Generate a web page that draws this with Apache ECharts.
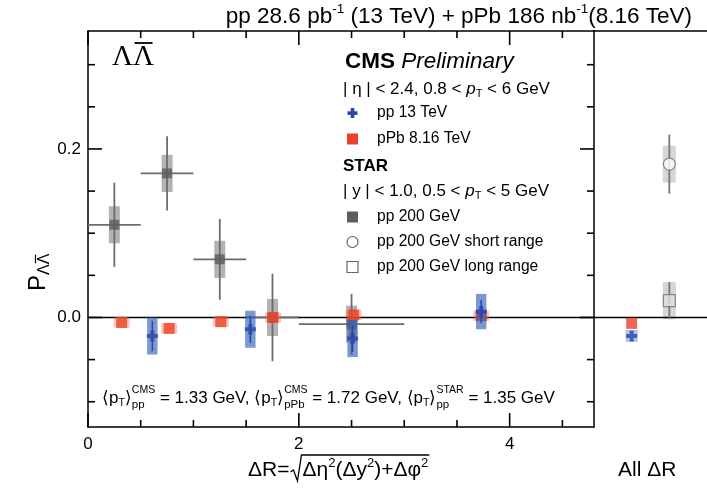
<!DOCTYPE html>
<html>
<head>
<meta charset="utf-8">
<script src="https://cdn.jsdelivr.net/npm/echarts@6/dist/echarts.min.js"></script>
<style>
html,body{margin:0;padding:0;background:#fff}
#chart{width:707px;height:493px}
</style>
</head>
<body>
<div id="chart"></div>
<script>
// ---- CMS pp 13 TeV ----
const cmsPpDR   = [0.61, 1.54, 2.51, 3.73];
const cmsPpP    = [-0.022, -0.014, -0.025, 0.007];
const cmsPpStat = [0.018, 0.016, 0.016, 0.014];
const cmsPpSys  = [0.022, 0.022, 0.022, 0.021];

// ---- CMS pPb 8.16 TeV ----
const cmsPPbDR  = [0.32, 0.77, 1.26, 1.755, 2.52, 3.73];
const cmsPPbP   = [-0.006, -0.013, -0.005, 0.000, 0.003, 0.002];
const cmsPPbSys = [0.006, 0.006, 0.006, 0.006, 0.006, 0.006];

// ---- STAR pp 200 GeV, binned in dR ----
const starDR   = [0.25, 0.75, 1.25, 1.75, 2.5];
const starLo   = [0.0, 0.5, 1.0, 1.5, 2.0];
const starHi   = [0.5, 1.0, 1.5, 2.0, 3.0];
const starP    = [0.110, 0.171, 0.069, 0.000, -0.008];
const starStat = [0.050, 0.044, 0.048, 0.052, 0.036];
const starSys  = [0.022, 0.022, 0.022, 0.022, 0.022];

// ---- integrated over all dR (right panel; slot 1 = CMS, slot 2 = STAR) ----
const allCmsPp    = { slot: 1, p: -0.022, stat: 0.005, sys: 0.007 };
const allCmsPPb   = { slot: 1, p: -0.007, sys: 0.004 };
const allStarShort= { slot: 2, p: 0.182, stat: 0.035, sys: 0.022 };
const allStarLong = { slot: 2, p: 0.020, stat: 0.022, sys: 0.022 };

// ---- axis ticks ----
const xMajor = [0, 2, 4];
const xMinor = [0.5, 1, 1.5, 2.5, 3, 3.5, 4.5];
const yMajor = [0, 0.2];
const yMinor = [-0.1, -0.05, 0.05, 0.1, 0.15, 0.25, 0.3];
const xRange = [0, 4.8];
const yRange = [-0.13, 0.34];
const slotRange = [0, 3];

const FONT  = '"Liberation Sans", Arial, Helvetica, sans-serif';
const SERIF = '"Liberation Serif", "Times New Roman", serif';

const C = {
  starMark: '#5c5c5c', starLine: '#6c6c6c', starBox: '#b3b3b3',
  starBoxLight: '#d6d6d6', starOpen: '#777777', starOpenFill: '#dedede',
  blueBox: 'rgba(55,95,185,0.65)', blueBoxLight: 'rgba(80,120,200,0.45)', blue: '#2348a6',
  red: '#ec4126', redHalo: 'rgba(240,105,85,0.38)'
};
const CROSS = 'path://M3.2,0H6.8V3.2H10V6.8H6.8V10H3.2V6.8H0V3.2H3.2Z';

// ---------- text layout helpers ----------
const ctx2d = document.createElement('canvas').getContext('2d');
function fnt(p) { return (p.i ? 'italic ' : '') + (p.b ? 'bold ' : '') + p.s + 'px ' + (p.f || FONT); }
function tw(p) { ctx2d.font = fnt(p); return ctx2d.measureText(p.t).width; }
function textEl(x, y, p) {
  return { type: 'text', x: x, y: y, z: 100,
    style: { text: p.t, font: fnt(p), fill: p.c || '#000', align: 'left', verticalAlign: 'middle' } };
}
// lays out pieces left to right; a piece with "stack" holds a superscript/subscript pair
function run(x, y, parts, els) {
  let cx = x; const marks = [];
  parts.forEach(p => {
    if (p.stack) {
      let w = 0;
      p.stack.forEach(q => { if (els) els.push(textEl(cx, y + q.dy, q)); w = Math.max(w, tw(q)); });
      cx += w;
    } else {
      const px = cx + (p.dx || 0);
      if (els) els.push(textEl(px, y + (p.dy || 0), p));
      const w = tw(p);
      if (p.mark) marks.push([px, px + w, y + (p.dy || 0), p.s]);
      cx = px + w;
    }
  });
  return { end: cx, marks: marks };
}
function line(x1, y1, x2, y2, stroke, w, z) {
  return { type: 'line', z: z || 100, shape: { x1, y1, x2, y2 }, style: { stroke: stroke || '#000', lineWidth: w || 1 } };
}

const G = [];

// header (right aligned)
const header = [
  { t: 'pp 28.6 pb', s: 22.5 }, { t: '-1', s: 13.5, dy: -8 },
  { t: ' (13 TeV) + pPb 186 nb', s: 22.5 }, { t: '-1', s: 13.5, dy: -8 },
  { t: '(8.16 TeV)', s: 22.5 }
];
const headerW = run(0, 0, header).end;
run(692 - headerW, 17, header, G);

// Lambda Lambda-bar tag
(function () {
  const y = 57;
  const r = run(112, y, [{ t: 'Λ', s: 29, f: SERIF }, { t: 'Λ', s: 29, f: SERIF, mark: true }], G);
  const m = r.marks[0];
  G.push(line(m[0] + 1.5, y - 14, m[1] - 1.5, y - 14, '#000', 1.8));
})();

// CMS block
run(345, 62, [{ t: 'CMS', s: 22.5, b: true }, { t: ' ', s: 22.5 }, { t: 'Preliminary', s: 22.5, i: true }], G);
run(343, 89, [{ t: '| η | < 2.4, 0.8 < ', s: 17 }, { t: 'p', s: 17, i: true }, { t: 'T', s: 11, dy: 5 }, { t: ' < 6 GeV', s: 17 }], G);
run(377, 113, [{ t: 'pp 13 TeV', s: 15.6 }], G);
run(377, 139, [{ t: 'pPb 8.16 TeV', s: 15.6 }], G);
// STAR block
run(343, 166, [{ t: 'STAR', s: 17, b: true }], G);
run(343, 191, [{ t: '| y | < 1.0, 0.5 < ', s: 17 }, { t: 'p', s: 17, i: true }, { t: 'T', s: 11, dy: 5 }, { t: ' < 5 GeV', s: 17 }], G);
run(377, 217, [{ t: 'pp 200 GeV', s: 15.6 }], G);
run(377, 242, [{ t: 'pp 200 GeV short range', s: 15.6 }], G);
run(377, 267, [{ t: 'pp 200 GeV long range', s: 15.6 }], G);

// legend symbols
G.push({ type: 'rect', z: 100, shape: { x: 347.5, y: 111.3, width: 10, height: 3.6 }, style: { fill: C.blue } });
G.push({ type: 'rect', z: 100, shape: { x: 350.7, y: 108, width: 3.6, height: 10 }, style: { fill: C.blue } });
G.push({ type: 'rect', z: 100, shape: { x: 347, y: 133.5, width: 11, height: 11 }, style: { fill: C.red } });
G.push({ type: 'rect', z: 100, shape: { x: 347, y: 211.5, width: 11, height: 11 }, style: { fill: C.starMark } });
G.push({ type: 'circle', z: 100, shape: { cx: 352.5, cy: 242, r: 5.5 }, style: { fill: 'none', stroke: '#666', lineWidth: 1.2 } });
G.push({ type: 'rect', z: 100, shape: { x: 347, y: 261.5, width: 11, height: 11 }, style: { fill: 'none', stroke: '#666', lineWidth: 1.2 } });

// mean pT note
run(102, 398, [
  { t: '⟨p', s: 17 }, { t: 'T', s: 10.5, dy: 5 }, { t: '⟩', s: 17 },
  { stack: [{ t: 'CMS', s: 10.5, dy: -8 }, { t: 'pp', s: 11.5, dy: 7 }] },
  { t: ' = 1.33 GeV, ⟨p', s: 17 }, { t: 'T', s: 10.5, dy: 5 }, { t: '⟩', s: 17 },
  { stack: [{ t: 'CMS', s: 10.5, dy: -8 }, { t: 'pPb', s: 11.5, dy: 7 }] },
  { t: ' = 1.72 GeV, ⟨p', s: 17 }, { t: 'T', s: 10.5, dy: 5 }, { t: '⟩', s: 17 },
  { stack: [{ t: 'STAR', s: 10.5, dy: -8 }, { t: 'pp', s: 11.5, dy: 7 }] },
  { t: ' = 1.35 GeV', s: 17 }
], G);

// x-axis title with radical sign
(function () {
  const y = 470;
  const a = run(248, y, [{ t: 'ΔR=', s: 21 }], G);
  const rx = a.end;
  const b = run(rx + 13, y, [
    { t: 'Δη', s: 21 }, { t: '2', s: 13, dy: -7 }, { t: '(Δy', s: 21 }, { t: '2', s: 13, dy: -7 },
    { t: ')+Δφ', s: 21 }, { t: '2', s: 13, dy: -7 }
  ], G);
  G.push({ type: 'polyline', z: 100, shape: { points: [[rx + 1, y + 2], [rx + 4, y], [rx + 8, y + 11], [rx + 12, y - 15], [b.end + 1, y - 15]] },
    style: { stroke: '#000', lineWidth: 1.3, fill: 'none' } });
})();
run(618, 470, [{ t: 'All ΔR', s: 21 }], G);

// y-axis title, rotated
(function () {
  const kids = [];
  const r = run(0, 0, [{ t: 'P', s: 24 }, { t: 'Λ', s: 16, dy: 7 }, { t: 'Λ', s: 16, dy: 7, mark: true }], kids);
  const m = r.marks[0];
  kids.push(line(m[0] + 1, -2.5, m[1] - 1, -2.5, '#000', 1.2));
  G.push({ type: 'group', x: 38, y: 291, rotation: Math.PI / 2, children: kids });
})();

// ---------- series renderers ----------
function boxRender(halfW, fill, errIdx) {
  return function (params, api) {
    const x = api.value(0), y = api.value(1), e = api.value(errIdx);
    const p = api.coord([x, y]), t = api.coord([x, y + e]), b = api.coord([x, y - e]);
    return { type: 'rect', shape: { x: p[0] - halfW, y: t[1], width: 2 * halfW, height: b[1] - t[1] }, style: { fill: fill } };
  };
}
function errRender(color, width, statIdx, loIdx, hiIdx) {
  return function (params, api) {
    const x = api.value(0), y = api.value(1), s = api.value(statIdx);
    const t = api.coord([x, y + s]), b = api.coord([x, y - s]);
    const children = [{ type: 'line', shape: { x1: t[0], y1: t[1], x2: b[0], y2: b[1] }, style: { stroke: color, lineWidth: width } }];
    if (loIdx != null) {
      const l = api.coord([api.value(loIdx), y]), r = api.coord([api.value(hiIdx), y]);
      children.push({ type: 'line', shape: { x1: l[0], y1: l[1], x2: r[0], y2: r[1] }, style: { stroke: color, lineWidth: width } });
    }
    return { type: 'group', children: children };
  };
}

const starRows = starDR.map((d, i) => [d, starP[i], starLo[i], starHi[i], starStat[i], starSys[i]]);
const ppRows   = cmsPpDR.map((d, i) => [d, cmsPpP[i], cmsPpStat[i], cmsPpSys[i]]);
const pPbRows  = cmsPPbDR.map((d, i) => [d, cmsPPbP[i], cmsPPbSys[i]]);

const L = { xAxisIndex: 0, yAxisIndex: 0 };
const R = { xAxisIndex: 1, yAxisIndex: 1 };
const enc = { x: 0, y: 1 };

const series = [
  // left panel data
  Object.assign({ type: 'custom', z: 2, data: starRows, encode: enc, renderItem: boxRender(5.5, C.starBox, 5) }, L),
  Object.assign({ type: 'line', z: 3, data: [[xRange[0], 0], [xRange[1], 0]], symbol: 'none', lineStyle: { color: '#000', width: 1.5 } }, L),
  Object.assign({ type: 'custom', z: 4, data: starRows, encode: enc, renderItem: errRender(C.starLine, 1.8, 4, 2, 3) }, L),
  Object.assign({ type: 'scatter', z: 5, data: starRows.map(r => [r[0], r[1]]), symbol: 'rect', symbolSize: 10, itemStyle: { color: C.starMark } }, L),
  Object.assign({ type: 'custom', z: 6, data: pPbRows, encode: enc, renderItem: boxRender(8, C.redHalo, 2) }, L),
  Object.assign({ type: 'scatter', z: 7, data: pPbRows.map(r => [r[0], r[1]]), symbol: 'rect', symbolSize: 11, itemStyle: { color: C.red } }, L),
  Object.assign({ type: 'custom', z: 8, data: ppRows, encode: enc, renderItem: boxRender(5.2, C.blueBox, 3) }, L),
  Object.assign({ type: 'custom', z: 9, data: ppRows, encode: enc, renderItem: errRender(C.blue, 1.5, 2) }, L),
  Object.assign({ type: 'scatter', z: 10, data: ppRows.map(r => [r[0], r[1]]), symbol: CROSS, symbolSize: 11, itemStyle: { color: C.blue } }, L),

  // right panel (all dR)
  Object.assign({ type: 'line', z: 3, data: [[slotRange[0], 0], [slotRange[1], 0]], symbol: 'none', lineStyle: { color: '#000', width: 1.5 } }, R),
  Object.assign({ type: 'custom', z: 2, encode: enc,
    data: [[allStarShort.slot, allStarShort.p, allStarShort.stat, allStarShort.sys], [allStarLong.slot, allStarLong.p, allStarLong.stat, allStarLong.sys]],
    renderItem: boxRender(6.5, C.starBoxLight, 3) }, R),
  Object.assign({ type: 'custom', z: 4, encode: enc,
    data: [[allStarShort.slot, allStarShort.p, allStarShort.stat], [allStarLong.slot, allStarLong.p, allStarLong.stat]],
    renderItem: errRender(C.starOpen, 1.8, 2) }, R),
  Object.assign({ type: 'scatter', z: 5, data: [[allStarShort.slot, allStarShort.p]], symbol: 'circle', symbolSize: 12,
    itemStyle: { color: '#fff', borderColor: C.starOpen, borderWidth: 1.3 } }, R),
  Object.assign({ type: 'scatter', z: 5, data: [[allStarLong.slot, allStarLong.p]], symbol: 'rect', symbolSize: 12,
    itemStyle: { color: C.starOpenFill, borderColor: C.starOpen, borderWidth: 1.3 } }, R),
  Object.assign({ type: 'scatter', z: 7, data: [[allCmsPPb.slot, allCmsPPb.p]], symbol: 'rect', symbolSize: 11, itemStyle: { color: C.red } }, R),
  Object.assign({ type: 'custom', z: 8, encode: enc, data: [[allCmsPp.slot, allCmsPp.p, allCmsPp.stat, allCmsPp.sys]],
    renderItem: boxRender(6, C.blueBoxLight, 3) }, R),
  Object.assign({ type: 'scatter', z: 10, data: [[allCmsPp.slot, allCmsPp.p]], symbol: CROSS, symbolSize: 11, itemStyle: { color: C.blue } }, R)
];
series.forEach(s => { s.silent = true; s.animation = false; s.clip = false; });

// ---------- axes (frame lines and tick labels) ----------
const lab = { fontFamily: FONT, fontSize: 17, color: '#000' };
const lineOn  = { show: true, onZero: false, lineStyle: { color: '#000', width: 1.5 } };
const lineOff = { show: false, onZero: false };
function ax(kind, grid, pos, range, withLine, labels, extra) {
  return Object.assign({
    type: 'value', gridIndex: grid, position: pos, min: range[0], max: range[1],
    axisLine: withLine ? lineOn : lineOff,
    axisTick: { show: false },
    axisLabel: labels
      ? Object.assign({ show: true, margin: kind === 'x' ? 9 : 7, customValues: labels,
          formatter: kind === 'x' ? (v => String(v)) : (v => v.toFixed(1)) }, lab)
      : { show: false },
    splitLine: { show: false }
  }, extra || {});
}

const option = {
  animation: false,
  backgroundColor: '#fff',
  grid: [
    { left: 88, top: 31, width: 506, height: 396 },
    { left: 594, top: 31, width: 113, height: 396 }
  ],
  xAxis: [
    ax('x', 0, 'bottom', xRange, true, xMajor),
    ax('x', 1, 'bottom', slotRange, false, null, { show: false }),
    ax('x', 0, 'top', xRange, true, null),
    ax('x', 1, 'top', slotRange, true, null)
  ],
  yAxis: [
    ax('y', 0, 'left', yRange, true, yMajor),
    ax('y', 1, 'left', yRange, false, null, { show: false }),
    ax('y', 0, 'right', yRange, true, null)
  ],
  series: series,
  graphic: { elements: G }
};

const chart = echarts.init(document.getElementById('chart'), null, { renderer: 'canvas' });
chart.setOption(option);

// inward frame ticks of the left panel, placed through the panel's own scales
(function () {
  const toPx = v => chart.convertToPixel({ gridIndex: 0 }, v);
  const ticks = [];
  const addX = (vals, len) => vals.forEach(v => {
    const b = toPx([v, yRange[0]]), t = toPx([v, yRange[1]]);
    ticks.push(line(b[0], b[1], b[0], b[1] - len, '#000', 1.6, 200));
    ticks.push(line(t[0], t[1], t[0], t[1] + len, '#000', 1.6, 200));
  });
  const addY = (vals, len) => vals.forEach(v => {
    const l = toPx([xRange[0], v]), r = toPx([xRange[1], v]);
    ticks.push(line(l[0], l[1], l[0] + len, l[1], '#000', 1.6, 200));
    ticks.push(line(r[0], r[1], r[0] - len, r[1], '#000', 1.6, 200));
  });
  addX(xMajor, 14); addX(xMinor, 7);
  addY(yMajor, 14); addY(yMinor, 7);
  chart.setOption({ graphic: { elements: G.concat(ticks) } }, { replaceMerge: ['graphic'] });
})();
</script>
</body>
</html>
